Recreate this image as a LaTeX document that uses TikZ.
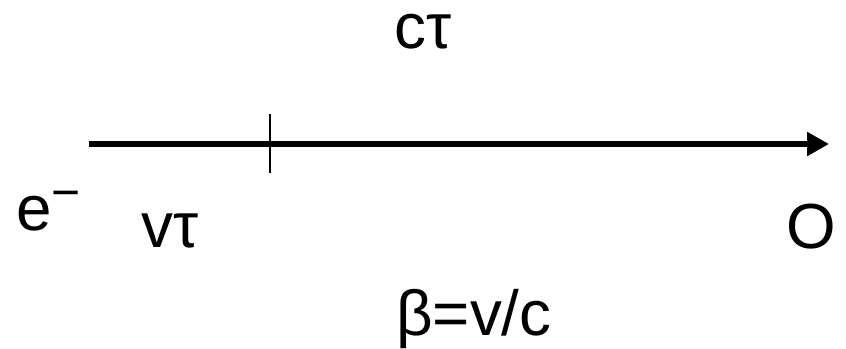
\documentclass[tikz,border=0pt]{standalone}
\usepackage{fontspec}
\setmainfont{Liberation Sans}
\usetikzlibrary{arrows.meta}
\tikzset{
  lbl/.style={inner sep=0pt, anchor=base west, font=\fontsize{64}{70}\selectfont},
  axis/.style={line width=6.5bp, -{Triangle[length=22bp,width=23bp]}},
  tick/.style={line width=1.5bp}
}
\begin{document}
\begin{tikzpicture}[x=1bp,y=-1bp]
\useasboundingbox (0,0) rectangle (846,348);
\coordinate (start) at (89,144);
\coordinate (end) at (829,144);
\coordinate (ticktop) at (270,114);
\coordinate (tickbot) at (270,173);
\draw[axis] (start) -- (end);
\draw[tick] (ticktop) -- (tickbot);
\node[lbl] (ct) at (394,48) {cτ};
\node[lbl] (e) at (16,230) {e\raisebox{21bp}{\fontsize{50}{52}\selectfont −}};
\node[lbl] (vt) at (141,247) {vτ};
\node[lbl] (o) at (786,248) {O};
\node[lbl] (beta) at (396,335) {β=v/c};
\end{tikzpicture}
\end{document}
